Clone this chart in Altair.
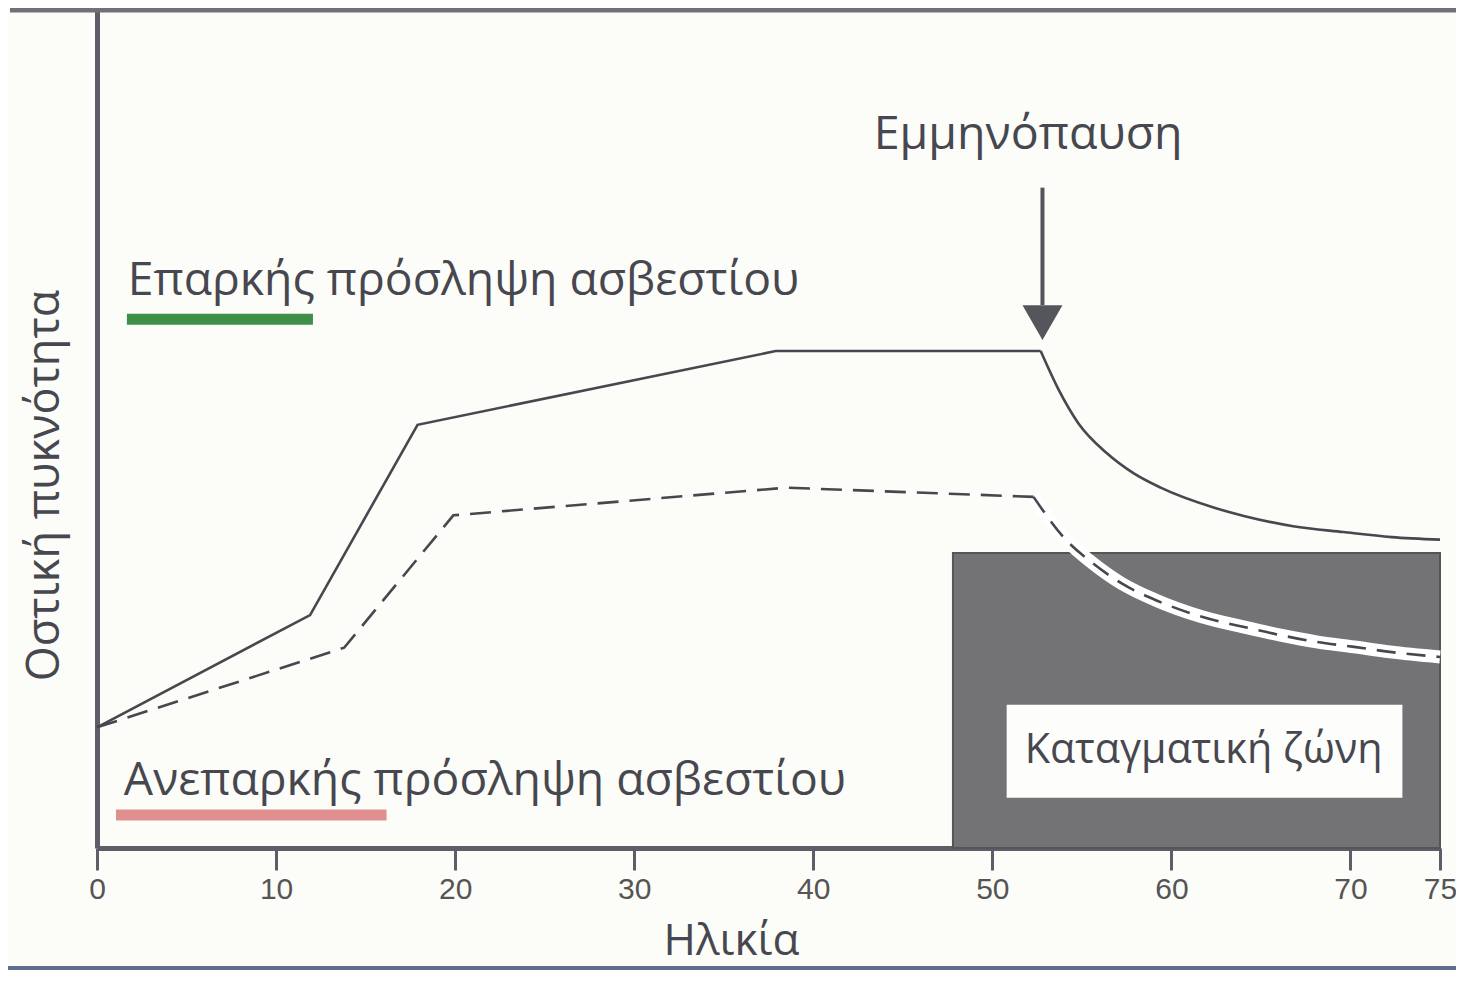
import altair as alt
import pandas as pd

# ---- data ----
solid_age = [0, 11.9, 17.9, 37.9, 52.7, 53.7, 54.8, 56.4, 57.9, 59.4, 62.4, 64.1, 66.8, 69.6, 72.3, 75]
solid_bmd = [14.4, 27.8, 50.5, 59.3, 59.3, 54.7, 50.7, 47.1, 44.7, 43.0, 40.6, 39.6, 38.4, 37.7, 37.1, 36.8]

dash_age = [0, 13.8, 19.9, 38.5, 52.3, 54.1, 55.6, 57.2, 59.1, 61.7, 64.2, 66.1, 68.1, 70.2, 72.2, 75]
dash_bmd = [14.4, 23.9, 39.7, 43.0, 41.9, 36.8, 34.0, 31.6, 29.6, 27.6, 26.3, 25.4, 24.6, 24.0, 23.4, 22.8]

menopause_index = 4  # point where the decline starts in both series

x_ticks = [0, 10, 20, 30, 40, 50, 60, 70, 75]

zone_age = [47.8, 75]
zone_bmd = [0, 35.2]
zone_label_box_age = [50.8, 72.9]
zone_label_box_bmd = [6.0, 17.1]
zone_label = "Καταγματική ζώνη"
zone_label_pos = [61.8, 10.1]

meno_label = "Εμμηνόπαυση"
meno_label_pos = [52.0, 83.4]
meno_arrow_age = 52.8
meno_arrow_bmd = [78.8, 64.8]
meno_head_bmd = 62.7

legend_labels = ["Επαρκής πρόσληψη ασβεστίου", "Ανεπαρκής πρόσληψη ασβεστίου"]
legend_label_age = [1.72, 1.5]
legend_label_bmd = [66.0, 6.3]
legend_bar_age = [[1.67, 12.06], [1.06, 16.17]]
legend_bar_bmd = [63.1, 3.94]
legend_colors = ["#3f8f48", "#e08f8f"]

FONT = "Open Sans"
INK = "#47474f"
AXIS = "#5e5e68"

xs = alt.Scale(domain=[0, 75], nice=False, zero=False)
ys = alt.Scale(domain=[0, 100], nice=False, zero=False)

solid_df = pd.DataFrame({"age": solid_age, "bmd": solid_bmd})
dash_df = pd.DataFrame({"age": dash_age, "bmd": dash_bmd})
solid_rise = solid_df.iloc[: menopause_index + 1]
solid_fall = solid_df.iloc[menopause_index:]
dash_rise = dash_df.iloc[: menopause_index + 1]
dash_fall = dash_df.iloc[menopause_index:]

base_x_axis = alt.Axis(
    values=x_ticks, tickSize=22, tickWidth=3, tickColor=AXIS,
    domainWidth=5, domainColor=AXIS, labelFontSize=30, labelFont="Liberation Sans",
    labelColor="#555555", labelPadding=4, labelFlush=False, grid=False,
    title="Ηλικία", titleFont=FONT, titleFontSize=44, titleFontWeight="normal",
    titleColor=INK, titlePadding=15, titleX=634, titleAlign="center",
)
base_y_axis = alt.Axis(
    ticks=False, labels=False, domainWidth=5, domainColor=AXIS, grid=False,
    title="Οστική πυκνότητα", titleFont=FONT, titleFontSize=45, titleFontWeight="normal",
    titleColor=INK, titlePadding=30, titleY=475, titleAlign="center", titleAngle=270,
)

# fracture zone
zone_df = pd.DataFrame({"x": [zone_age[0]], "x2": [zone_age[1]], "y": [zone_bmd[0]], "y2": [zone_bmd[1]]})
zone = alt.Chart(zone_df).mark_rect(color="#737375", stroke="#555558", strokeWidth=2).encode(
    x=alt.X("x:Q", scale=xs, axis=base_x_axis), x2="x2:Q",
    y=alt.Y("y:Q", scale=ys, axis=base_y_axis), y2="y2:Q",
)
box_df = pd.DataFrame({"x": [zone_label_box_age[0]], "x2": [zone_label_box_age[1]],
                       "y": [zone_label_box_bmd[0]], "y2": [zone_label_box_bmd[1]]})
label_box = alt.Chart(box_df).mark_rect(color="#fdfdfb").encode(
    x=alt.X("x:Q", scale=xs), x2="x2:Q", y=alt.Y("y:Q", scale=ys), y2="y2:Q"
)

enc = dict(x=alt.X("age:Q", scale=xs), y=alt.Y("bmd:Q", scale=ys))

# white halo under the declining dashed line (inside the fracture zone)
halo = alt.Chart(dash_fall).mark_line(color="#ffffff", strokeWidth=13, interpolate="monotone").encode(**enc)
solid_a = alt.Chart(solid_rise).mark_line(color=INK, strokeWidth=2.6).encode(**enc)
solid_b = alt.Chart(solid_fall).mark_line(color=INK, strokeWidth=2.6, interpolate="monotone").encode(**enc)
dashed_a = alt.Chart(dash_rise).mark_line(color=INK, strokeWidth=2.6, strokeDash=[21, 11]).encode(**enc)
dashed_b = alt.Chart(dash_fall).mark_line(color=INK, strokeWidth=2.6, strokeDash=[19, 11],
                                          interpolate="monotone").encode(**enc)

# menopause arrow
arrow_df = pd.DataFrame({"x": [meno_arrow_age], "y": [meno_arrow_bmd[0]], "y2": [meno_arrow_bmd[1]]})
arrow_line = alt.Chart(arrow_df).mark_rule(color="#55555c", strokeWidth=4).encode(
    x=alt.X("x:Q", scale=xs), y=alt.Y("y:Q", scale=ys), y2="y2:Q"
)
head_df = pd.DataFrame({"x": [meno_arrow_age], "y": [meno_head_bmd]})
arrow_head = alt.Chart(head_df).mark_point(
    shape="triangle-down", size=1600, filled=True, color="#55555c", opacity=1
).encode(x=alt.X("x:Q", scale=xs), y=alt.Y("y:Q", scale=ys))

# center texts
center_df = pd.DataFrame({
    "x": [meno_label_pos[0], zone_label_pos[0]],
    "y": [meno_label_pos[1], zone_label_pos[1]],
    "t": [meno_label, zone_label],
    "s": [46.5, 41.3],
})
center_text = alt.Chart(center_df).mark_text(
    font=FONT, align="center", baseline="alphabetic", color=INK
).encode(x=alt.X("x:Q", scale=xs), y=alt.Y("y:Q", scale=ys), text="t:N",
         size=alt.Size("s:Q", scale=None))

legend_text_df = pd.DataFrame({"x": legend_label_age, "y": legend_label_bmd, "t": legend_labels})
legend_text = alt.Chart(legend_text_df).mark_text(
    font=FONT, align="left", baseline="alphabetic", color=INK, fontSize=46.3
).encode(x=alt.X("x:Q", scale=xs), y=alt.Y("y:Q", scale=ys), text="t:N")

bars_df = pd.DataFrame({
    "x": [b[0] for b in legend_bar_age], "x2": [b[1] for b in legend_bar_age],
    "y": legend_bar_bmd, "c": legend_colors,
})
legend_bars = alt.Chart(bars_df).mark_rule(strokeWidth=11, strokeCap="butt").encode(
    x=alt.X("x:Q", scale=xs), x2="x2:Q", y=alt.Y("y:Q", scale=ys),
    color=alt.Color("c:N", scale=None),
)

# frame lines (top border and bottom page line)
top_line = alt.Chart(pd.DataFrame({"k": [0]})).mark_rule(color="#707078", strokeWidth=5).encode(
    x=alt.value(-87), x2=alt.value(1360), y=alt.value(0)
)
bottom_line = alt.Chart(pd.DataFrame({"k": [0]})).mark_rule(color="#5d6f8c", strokeWidth=4).encode(
    x=alt.value(-89), x2=alt.value(1360), y=alt.value(958)
)

chart = alt.layer(
    zone, halo, label_box, solid_a, solid_b, dashed_a, dashed_b, arrow_line, arrow_head,
    center_text, legend_text, legend_bars, top_line, bottom_line,
).properties(
    width=1343, height=838,
    padding={"left": 89, "top": 2, "right": 16, "bottom": 122},
    autosize=alt.AutoSizeParams(type="none"),
    background="#fcfcf8",
).configure_view(stroke=None)

chart.save("out.html", embed_options={"renderer": "svg", "actions": False})
